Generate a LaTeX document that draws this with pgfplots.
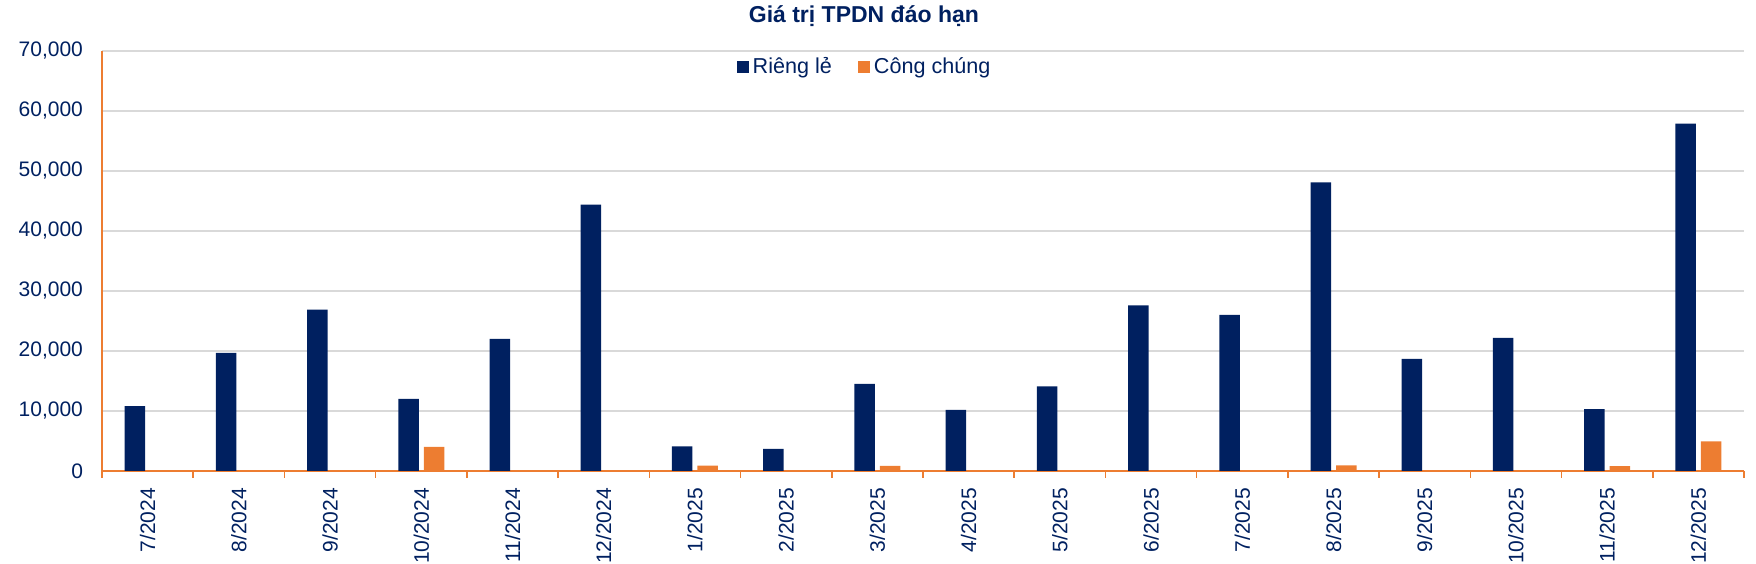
\documentclass[border=0pt]{standalone}
\usepackage{fontspec}
\setmainfont{Liberation Sans}
\usepackage{pgfplots}
\pgfplotsset{compat=1.18}
\usetikzlibrary{calc}

\definecolor{navy}{HTML}{002060}
\definecolor{orng}{HTML}{ED7D31}
\definecolor{gridgray}{HTML}{D9D9D9}

\begin{document}
\begin{tikzpicture}
\begin{axis}[
    name=ax,
    scale only axis,
    width=821pt, height=210pt,
    clip=false,
    ybar=2.5pt, bar width=10.25pt,
    xmin=-0.5, xmax=17.5,
    ymin=0, ymax=70000,
    axis x line=bottom, axis y line=left,
    axis line style={-, orng, line width=1pt},
    xtick={0,...,17},
    xticklabels={7/2024,8/2024,9/2024,10/2024,11/2024,12/2024,1/2025,2/2025,3/2025,4/2025,5/2025,6/2025,7/2025,8/2025,9/2025,10/2025,11/2025,12/2025},
    minor xtick={-0.5,0.5,...,17.5},
    tick align=outside,
    major tick length=0pt,
    minor tick length=3.5pt,
    minor tick style={orng, line width=0.8pt},
    xticklabel style={yshift=-5pt, rotate=90, anchor=east},
    ytick={0,10000,...,70000},
    scaled y ticks=false,
    yticklabel style={xshift=-6pt},
    /pgf/number format/.cd, fixed, 1000 sep={,}, assume math mode=true,
    /pgfplots/.cd,
    ymajorgrids,
    grid style={gridgray, line width=0.75pt},
    tick label style={font=\fontsize{10.5}{12}\selectfont, text=navy},
    legend style={at={(0.465,1)}, anchor=center, yshift=-8pt, draw=none, fill=none,
        font=\fontsize{10.8}{12}\selectfont, text=navy,
        /tikz/every even column/.append style={column sep=11pt}},
    legend columns=2,
    legend image code/.code={\fill[#1] (0pt,-3pt) rectangle (6pt,3pt);},
]
% Riêng lẻ
\addplot[fill=navy, draw=none] coordinates {
(0,10800) (1,19700) (2,26900) (3,12000) (4,22000) (5,44400)
(6,4100) (7,3700) (8,14500) (9,10200) (10,14100) (11,27600)
(12,26000) (13,48100) (14,18700) (15,22200) (16,10300) (17,57900)
};
% Công chúng
\addplot[fill=orng, draw=none] coordinates {
(0,0) (1,0) (2,0) (3,4000) (4,0) (5,0)
(6,900) (7,150) (8,850) (9,0) (10,0) (11,0)
(12,0) (13,950) (14,0) (15,0) (16,800) (17,4950)
};
\legend{Riêng lẻ, Công chúng}
\node[anchor=base, font=\bfseries\fontsize{11.5}{13}\selectfont, text=navy]
    at (rel axis cs:0.464,1) [yshift=14pt] {Giá trị TPDN đáo hạn};
\end{axis}
\pgfresetboundingbox
\path ($(ax.south west)+(-51pt,-46.5pt)$) rectangle ($(ax.north east)+(6pt,25.5pt)$);
\end{tikzpicture}
\end{document}
